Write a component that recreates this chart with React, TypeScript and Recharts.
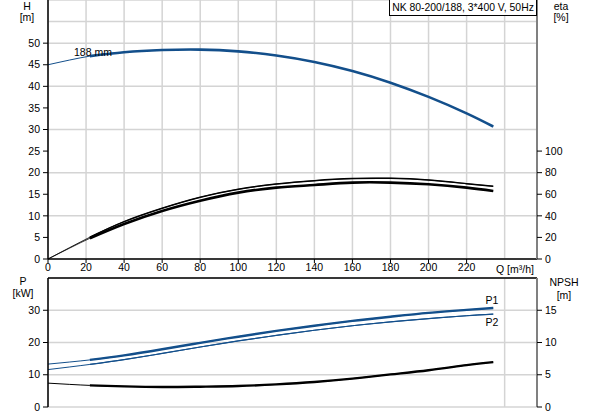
import React from "react";
import { ComposedChart, Line, XAxis, YAxis, CartesianGrid, ReferenceLine } from "recharts";

// flow points [m³/h]
const qFlow = [0, 22, 40, 60, 80, 100, 120, 140, 160, 180, 200, 220, 234];
const headM = [45.0, 47.0, 47.9, 48.4, 48.5, 48.1, 47.15, 45.65, 43.55, 40.85, 37.55, 33.75, 30.7];
const etaPump = [0, 20.2, 34.6, 47.0, 57.2, 64.6, 69.5, 72.6, 74.5, 74.8, 73.2, 69.8, 67.4];
const etaTotal = [0, 19.2, 32.4, 44.5, 54.0, 61.5, 66.1, 68.6, 70.8, 70.8, 69.2, 66.1, 63.0];
const powerP1 = [13.3, 14.6, 16.0, 17.9, 19.9, 21.8, 23.6, 25.2, 26.7, 28.0, 29.2, 30.1, 30.7];
const powerP2 = [11.6, 13.2, 14.7, 16.6, 18.6, 20.5, 22.2, 23.8, 25.2, 26.4, 27.4, 28.3, 28.8];
const npshM = [3.7, 3.35, 3.2, 3.1, 3.15, 3.25, 3.5, 3.87, 4.4, 5.05, 5.7, 6.5, 6.96];
const dutyStart = 22;

const qTicks = [0, 20, 40, 60, 80, 100, 120, 140, 160, 180, 200, 220];
const hTicks = [0, 5, 10, 15, 20, 25, 30, 35, 40, 45, 50];
const etaTicks = [0, 20, 40, 60, 80, 100];
const pTicks = [0, 10, 20, 30];
const npshTicks = [0, 5, 10, 15];

const rows = qFlow.map((q, i) => ({
  q,
  h: headM[i],
  eta: etaPump[i],
  etaTot: etaTotal[i],
  p1: powerP1[i],
  p2: powerP2[i],
  npsh: npshM[i],
}));
const dutyRows = rows.filter((r) => r.q >= dutyStart);

const BLUE = "#134f8b";
const GRID = "#d4d4d4";
const FONT = "'Liberation Sans', Arial, sans-serif";
const tickStyle = { fontSize: 10.5, fill: "#000", fontFamily: FONT };

function Label({ x, y, children, anchor = "center", size = 10.5 }: any) {
  return (
    <div
      style={{
        position: "absolute",
        left: x,
        top: y,
        transform: anchor === "center" ? "translateX(-50%)" : undefined,
        fontSize: size,
        lineHeight: "12px",
        whiteSpace: "nowrap",
        color: "#000",
      }}
    >
      {children}
    </div>
  );
}

export default function App() {
  const xDomain: [number, number] = [0, 257];
  return (
    <div
      style={{
        position: "absolute",
        left: 0,
        top: 0,
        width: 593,
        height: 415,
        background: "#fff",
        fontFamily: FONT,
        overflow: "hidden",
      }}
    >
      {/* Upper chart: H and eta */}
      <div style={{ position: "absolute", left: 0, top: 0 }}>
        <ComposedChart width={593} height={275} margin={{ top: 0, right: 0, bottom: 0, left: 0 }}>
          <CartesianGrid yAxisId="h" stroke={GRID} strokeWidth={1.5} />
          <XAxis
            dataKey="q"
            type="number"
            domain={xDomain}
            ticks={qTicks}
            height={16}
            tick={tickStyle}
            tickSize={4}
            tickMargin={1}
            axisLine={{ stroke: "#000", strokeWidth: 1.5 }}
            tickLine={{ stroke: "#000" }}
            allowDataOverflow
          />
          <YAxis
            yAxisId="h"
            domain={[0, 60]}
            ticks={hTicks}
            width={48}
            tick={tickStyle}
            tickSize={5}
            tickMargin={3}
            axisLine={{ stroke: "#000", strokeWidth: 1.5 }}
            tickLine={{ stroke: "#000" }}
          />
          <YAxis
            yAxisId="eta"
            orientation="right"
            domain={[0, 240]}
            ticks={etaTicks}
            width={56}
            tick={tickStyle}
            tickSize={5}
            tickMargin={3}
            axisLine={{ stroke: "#808080", strokeWidth: 2 }}
            tickLine={{ stroke: "#000" }}
          />
          <ReferenceLine yAxisId="h" y={55} stroke={GRID} strokeWidth={1.5} />
          <ReferenceLine yAxisId="h" x={240} stroke={GRID} strokeWidth={1.5} />
          <Line yAxisId="h" data={rows} dataKey="h" type="natural" stroke={BLUE} strokeWidth={1} dot={false} isAnimationActive={false} />
          <Line yAxisId="h" data={dutyRows} dataKey="h" type="natural" stroke={BLUE} strokeWidth={2.6} dot={false} isAnimationActive={false} />
          <Line yAxisId="eta" data={rows} dataKey="eta" type="natural" stroke="#000" strokeWidth={0.8} dot={false} isAnimationActive={false} />
          <Line yAxisId="eta" data={rows} dataKey="etaTot" type="natural" stroke="#000" strokeWidth={0.8} dot={false} isAnimationActive={false} />
          <Line yAxisId="eta" data={dutyRows} dataKey="eta" type="natural" stroke="#000" strokeWidth={1.5} dot={false} isAnimationActive={false} />
          <Line yAxisId="eta" data={dutyRows} dataKey="etaTot" type="natural" stroke="#000" strokeWidth={2.6} dot={false} isAnimationActive={false} />
        </ComposedChart>
      </div>

      {/* Lower chart: P and NPSH */}
      <div style={{ position: "absolute", left: 0, top: 270 }}>
        <ComposedChart width={593} height={145} margin={{ top: 8, right: 0, bottom: 8, left: 0 }}>
          <CartesianGrid yAxisId="p" stroke={GRID} strokeWidth={1.5} />
          <XAxis
            dataKey="q"
            type="number"
            domain={xDomain}
            ticks={qTicks}
            height={0}
            tick={false}
            tickLine={false}
            axisLine={{ stroke: "#000", strokeWidth: 1.5 }}
            allowDataOverflow
          />
          <YAxis
            yAxisId="p"
            domain={[0, 40]}
            ticks={pTicks}
            width={48}
            tick={tickStyle}
            tickSize={5}
            tickMargin={3}
            axisLine={{ stroke: "#000", strokeWidth: 1.5 }}
            tickLine={{ stroke: "#000" }}
          />
          <YAxis
            yAxisId="npsh"
            orientation="right"
            domain={[0, 20]}
            ticks={npshTicks}
            width={56}
            tick={tickStyle}
            tickSize={5}
            tickMargin={3}
            axisLine={{ stroke: "#808080", strokeWidth: 2 }}
            tickLine={{ stroke: "#000" }}
          />
          <ReferenceLine yAxisId="p" x={240} stroke={GRID} strokeWidth={1.5} />
          <ReferenceLine yAxisId="p" y={40} stroke="#000" strokeWidth={1.5} />
          <Line yAxisId="p" data={rows} dataKey="p1" type="natural" stroke={BLUE} strokeWidth={1} dot={false} isAnimationActive={false} />
          <Line yAxisId="p" data={rows} dataKey="p2" type="natural" stroke={BLUE} strokeWidth={1} dot={false} isAnimationActive={false} />
          <Line yAxisId="npsh" data={rows} dataKey="npsh" type="natural" stroke="#000" strokeWidth={1} dot={false} isAnimationActive={false} />
          <Line yAxisId="p" data={dutyRows} dataKey="p1" type="natural" stroke={BLUE} strokeWidth={2.4} dot={false} isAnimationActive={false} />
          <Line yAxisId="p" data={dutyRows} dataKey="p2" type="natural" stroke={BLUE} strokeWidth={1.2} dot={false} isAnimationActive={false} />
          <Line yAxisId="npsh" data={dutyRows} dataKey="npsh" type="natural" stroke="#000" strokeWidth={2.4} dot={false} isAnimationActive={false} />
        </ComposedChart>
      </div>

      {/* Axis titles and annotations */}
      <Label x={27} y={0}>H</Label>
      <Label x={27} y={11}>[m]</Label>
      <Label x={561} y={0}>eta</Label>
      <Label x={561} y={11}>[%]</Label>
      <Label x={515} y={263}>Q [m³/h]</Label>
      <Label x={23} y={275}>P</Label>
      <Label x={23} y={287}>[kW]</Label>
      <Label x={564} y={276}>NPSH</Label>
      <Label x={564} y={289}>[m]</Label>
      <Label x={492} y={294}>P1</Label>
      <Label x={492} y={316}>P2</Label>
      <Label x={74} y={46} anchor="start">188 mm</Label>
      <div
        style={{
          position: "absolute",
          left: 389,
          top: -1,
          width: 146,
          height: 15,
          border: "1px solid #000",
          background: "#fff",
          fontSize: 10.4,
          lineHeight: "15px",
          textAlign: "center",
          whiteSpace: "nowrap",
        }}
      >
        NK 80-200/188, 3*400 V, 50Hz
      </div>
    </div>
  );
}
